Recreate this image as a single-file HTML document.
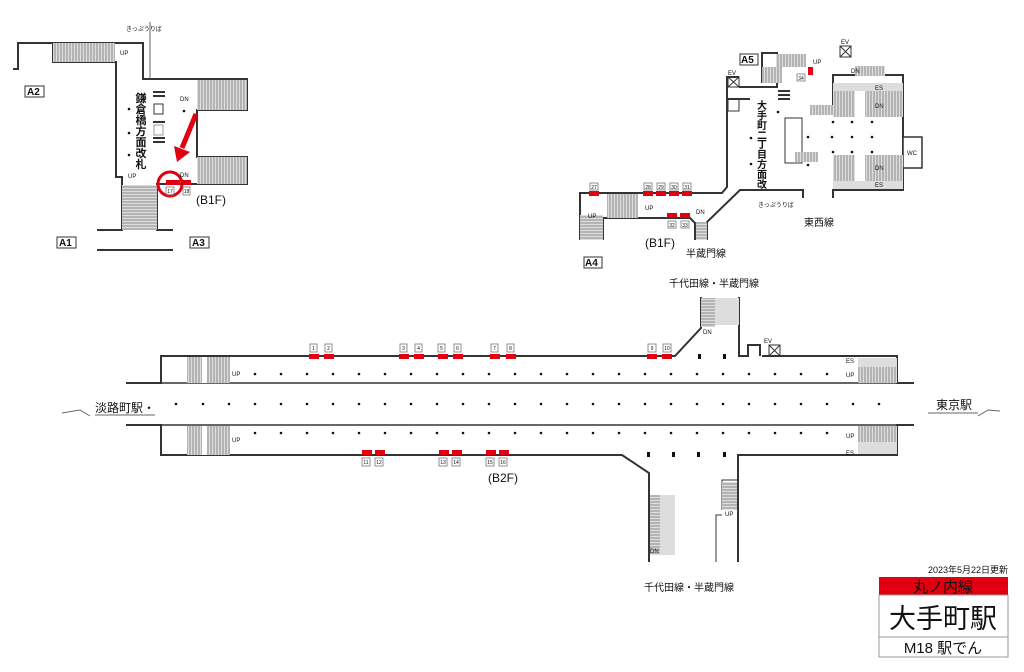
<!DOCTYPE html>
<html><head><meta charset="utf-8"><style>
body{margin:0;background:#fff}
svg{display:block}
text{font-family:"Liberation Sans","Noto Sans CJK JP",sans-serif;fill:#111}
</style></head><body>
<svg width="1024" height="672" viewBox="0 0 1024 672" xmlns="http://www.w3.org/2000/svg">
<defs>
<pattern id="hv" width="3" height="4" patternUnits="userSpaceOnUse"><rect width="3" height="4" fill="#ddd"/><line x1="1" y1="0" x2="1" y2="4" stroke="#666" stroke-width="0.7"/></pattern>
<pattern id="hh" width="4" height="3" patternUnits="userSpaceOnUse"><rect width="4" height="3" fill="#ddd"/><line x1="0" y1="1" x2="4" y2="1" stroke="#666" stroke-width="0.7"/></pattern>
</defs>
<g fill="none" stroke="#333" stroke-width="2">
<polyline points="13,69 18,69 18,43 143,43 143,79 247,79 247,110 197,110 197,157 247,157 247,184 157,184 157,230 173,230"/>
<polyline points="53,43 53,62 116,62 116,177 122,177 122,230 97,230"/>
<line x1="97" y1="250" x2="173" y2="250"/>
<polyline points="580,240 580,193 722,193 727,187 727,77 739,77"/>
<polyline points="739,87 777,87 777,53 762,53 762,83"/>
<polyline points="603,240 603,218 690,218 695,223 695,240"/>
<polyline points="707,240 707,222 740,190 803,190 803,198"/>
<polyline points="833,107 833,75 903,75 903,190 833,190 833,198"/>
<line x1="728" y1="99" x2="750" y2="99"/>
<polyline points="126,383 161,383 161,356 675,356 701,328 701,297"/>
<polyline points="739,297 739,356 748,356 748,345 760,345 760,356"/>
<polyline points="762,356 897,356 897,383 914,383"/>
<line x1="161" y1="383" x2="897" y2="383" stroke-width="1.5"/>
<polyline points="126,425 161,425 161,455 622,455 649,473 649,562"/>
<polyline points="738,562 738,455 897,455 897,425 914,425"/>
<line x1="161" y1="425" x2="897" y2="425" stroke-width="1.5"/>
</g>
<g stroke="#333" stroke-width="1" fill="none">
<rect x="728" y="77" width="11" height="10"/><path d="M728 77l11 10M739 77l-11 10"/>
<rect x="728" y="99" width="11" height="12"/>
<rect x="903" y="137" width="19" height="31" fill="#fff" stroke-width="1.5"/>
<rect x="840" y="46" width="11" height="11"/><path d="M840 46l11 11M851 46l-11 11"/>
<rect x="769" y="345" width="11" height="11"/><path d="M769 345l11 11M780 345l-11 11"/>
<rect x="785" y="118" width="17" height="45"/>
<polyline points="722,510 722,480 738,480"/>
<polyline points="716,562 716,515 722,515"/>
<line x1="150" y1="22" x2="150" y2="79" stroke="#666"/>
</g>
<rect x="53" y="43" width="62" height="19" fill="url(#hv)"/>
<rect x="197" y="80" width="50" height="30" fill="url(#hv)"/>
<rect x="197" y="157" width="50" height="27" fill="url(#hv)"/>
<rect x="122" y="185" width="35" height="45" fill="url(#hh)"/>
<rect x="607" y="194" width="31" height="24" fill="url(#hv)"/>
<rect x="580" y="215" width="23" height="25" fill="url(#hh)"/>
<rect x="696" y="222" width="11" height="18" fill="url(#hh)"/>
<rect x="776" y="54" width="30" height="13" fill="url(#hv)"/>
<rect x="762" y="67" width="20" height="16" fill="url(#hv)"/>
<rect x="855" y="66" width="30" height="10" fill="url(#hv)"/>
<rect x="833" y="83" width="70" height="8" fill="#ddd"/>
<rect x="833" y="91" width="70" height="26" fill="url(#hv)"/>
<rect x="855" y="91" width="10" height="26" fill="#fff"/>
<rect x="833" y="155" width="70" height="26" fill="url(#hv)"/>
<rect x="855" y="155" width="10" height="26" fill="#fff"/>
<rect x="833" y="181" width="70" height="8" fill="#ddd"/>
<rect x="810" y="105" width="23" height="10" fill="url(#hv)"/>
<rect x="795" y="152" width="23" height="10" fill="url(#hv)"/>
<rect x="187" y="357" width="43" height="26" fill="url(#hv)"/>
<rect x="187" y="426" width="43" height="29" fill="url(#hv)"/>
<rect x="202" y="357" width="5" height="26" fill="#fff"/><rect x="202" y="426" width="5" height="29" fill="#fff"/>
<rect x="858" y="358" width="39" height="9" fill="#ddd"/>
<rect x="858" y="367" width="39" height="16" fill="url(#hv)"/>
<rect x="858" y="426" width="39" height="16" fill="url(#hv)"/>
<rect x="858" y="442" width="39" height="12" fill="#ddd"/>
<rect x="701" y="298" width="14" height="29" fill="url(#hh)"/>
<rect x="715" y="298" width="24" height="27" fill="#ddd"/>
<rect x="650" y="495" width="10" height="60" fill="url(#hh)"/>
<rect x="660" y="495" width="15" height="60" fill="#ddd"/>
<rect x="722" y="482" width="15" height="28" fill="url(#hh)"/>
<g stroke="#333" stroke-width="2">
<line x1="153" y1="92" x2="165" y2="92"/><line x1="153" y1="96" x2="165" y2="96"/>
<line x1="153" y1="122" x2="165" y2="122"/><line x1="153" y1="138" x2="165" y2="138"/><line x1="153" y1="142" x2="165" y2="142"/>
<line x1="778" y1="91" x2="790" y2="91"/><line x1="778" y1="95" x2="790" y2="95"/><line x1="778" y1="99" x2="790" y2="99"/>
</g>
<rect x="154" y="104" width="9" height="10" fill="none" stroke="#333"/>
<rect x="154" y="125" width="9" height="10" fill="none" stroke="#999"/>
<g fill="#e00010">
<rect x="166" y="180" width="14" height="5"/><rect x="181" y="180" width="10" height="5"/>
<rect x="808" y="67" width="5" height="8"/>
<rect x="589" y="191" width="10" height="5"/><rect x="643" y="191" width="10" height="5"/><rect x="656" y="191" width="10" height="5"/><rect x="669" y="191" width="10" height="5"/><rect x="682" y="191" width="10" height="5"/>
<rect x="667" y="213" width="10" height="5"/><rect x="680" y="213" width="10" height="5"/>
<rect x="309" y="354" width="10" height="5"/><rect x="324" y="354" width="10" height="5"/><rect x="399" y="354" width="10" height="5"/><rect x="414" y="354" width="10" height="5"/><rect x="438" y="354" width="10" height="5"/><rect x="453" y="354" width="10" height="5"/><rect x="490" y="354" width="10" height="5"/><rect x="506" y="354" width="10" height="5"/><rect x="647" y="354" width="10" height="5"/><rect x="662" y="354" width="10" height="5"/>
<rect x="362" y="450" width="10" height="5"/><rect x="375" y="450" width="10" height="5"/><rect x="439" y="450" width="10" height="5"/><rect x="452" y="450" width="10" height="5"/><rect x="486" y="450" width="10" height="5"/><rect x="499" y="450" width="10" height="5"/>
</g>
<line x1="196" y1="114" x2="182" y2="148" stroke="#e00010" stroke-width="5"/>
<polygon points="174,146 190,152 177,162" fill="#e00010"/>
<circle cx="170" cy="184" r="12" fill="none" stroke="#e00010" stroke-width="3"/>
<g font-size="6" fill="#333" stroke="#777" stroke-width="0.8">
<rect x="310" y="344" width="7" height="8" fill="none"/><rect x="325" y="344" width="7" height="8" fill="none"/><rect x="400" y="344" width="7" height="8" fill="none"/><rect x="415" y="344" width="7" height="8" fill="none"/><rect x="438" y="344" width="7" height="8" fill="none"/><rect x="454" y="344" width="7" height="8" fill="none"/><rect x="491" y="344" width="7" height="8" fill="none"/><rect x="507" y="344" width="7" height="8" fill="none"/><rect x="648" y="344" width="8" height="8" fill="none"/><rect x="663" y="344" width="8" height="8" fill="none"/>
<rect x="362" y="458" width="8" height="8" fill="none"/><rect x="375" y="458" width="8" height="8" fill="none"/><rect x="439" y="458" width="8" height="8" fill="none"/><rect x="452" y="458" width="8" height="8" fill="none"/><rect x="486" y="458" width="8" height="8" fill="none"/><rect x="499" y="458" width="8" height="8" fill="none"/>
<rect x="166" y="187" width="8" height="8" fill="none"/><rect x="183" y="187" width="7" height="8" fill="none"/>
<rect x="590" y="183" width="8" height="7" fill="none"/><rect x="644" y="183" width="8" height="7" fill="none"/><rect x="657" y="183" width="8" height="7" fill="none"/><rect x="670" y="183" width="8" height="7" fill="none"/><rect x="683" y="183" width="8" height="7" fill="none"/><rect x="668" y="221" width="8" height="7" fill="none"/><rect x="681" y="221" width="8" height="7" fill="none"/><rect x="797" y="74" width="8" height="7" fill="none"/>
</g>
<g font-size="5" fill="#333" text-anchor="middle">
<text x="313.5" y="350">1</text><text x="328.5" y="350">2</text><text x="403.5" y="350">3</text><text x="418.5" y="350">4</text><text x="441.5" y="350">5</text><text x="457.5" y="350">6</text><text x="494.5" y="350">7</text><text x="510.5" y="350">8</text><text x="652" y="350">9</text><text x="667" y="350">10</text>
<text x="366" y="464">11</text><text x="379" y="464">12</text><text x="443" y="464">13</text><text x="456" y="464">14</text><text x="490" y="464">15</text><text x="503" y="464">16</text>
<text x="170" y="193">17</text><text x="186.5" y="193">18</text>
<text x="594" y="189">27</text><text x="648" y="189">28</text><text x="661" y="189">29</text><text x="674" y="189">30</text><text x="687" y="189">31</text><text x="672" y="227">32</text><text x="685" y="227">33</text><text x="801" y="80">34</text>
</g>
<g fill="#111">
<circle cx="255" cy="374" r="1.3"/><circle cx="281" cy="374" r="1.3"/><circle cx="307" cy="374" r="1.3"/><circle cx="333" cy="374" r="1.3"/><circle cx="359" cy="374" r="1.3"/><circle cx="385" cy="374" r="1.3"/><circle cx="411" cy="374" r="1.3"/><circle cx="437" cy="374" r="1.3"/><circle cx="463" cy="374" r="1.3"/><circle cx="489" cy="374" r="1.3"/><circle cx="515" cy="374" r="1.3"/><circle cx="541" cy="374" r="1.3"/><circle cx="567" cy="374" r="1.3"/><circle cx="593" cy="374" r="1.3"/><circle cx="619" cy="374" r="1.3"/><circle cx="645" cy="374" r="1.3"/><circle cx="671" cy="374" r="1.3"/><circle cx="697" cy="374" r="1.3"/><circle cx="723" cy="374" r="1.3"/><circle cx="749" cy="374" r="1.3"/><circle cx="775" cy="374" r="1.3"/><circle cx="801" cy="374" r="1.3"/><circle cx="827" cy="374" r="1.3"/>
<circle cx="255" cy="433" r="1.3"/><circle cx="281" cy="433" r="1.3"/><circle cx="307" cy="433" r="1.3"/><circle cx="333" cy="433" r="1.3"/><circle cx="359" cy="433" r="1.3"/><circle cx="385" cy="433" r="1.3"/><circle cx="411" cy="433" r="1.3"/><circle cx="437" cy="433" r="1.3"/><circle cx="463" cy="433" r="1.3"/><circle cx="489" cy="433" r="1.3"/><circle cx="515" cy="433" r="1.3"/><circle cx="541" cy="433" r="1.3"/><circle cx="567" cy="433" r="1.3"/><circle cx="593" cy="433" r="1.3"/><circle cx="619" cy="433" r="1.3"/><circle cx="645" cy="433" r="1.3"/><circle cx="671" cy="433" r="1.3"/><circle cx="697" cy="433" r="1.3"/><circle cx="723" cy="433" r="1.3"/><circle cx="749" cy="433" r="1.3"/><circle cx="775" cy="433" r="1.3"/><circle cx="801" cy="433" r="1.3"/><circle cx="827" cy="433" r="1.3"/>
<circle cx="176" cy="404" r="1.3"/><circle cx="203" cy="404" r="1.3"/><circle cx="229" cy="404" r="1.3"/><circle cx="255" cy="404" r="1.3"/><circle cx="281" cy="404" r="1.3"/><circle cx="307" cy="404" r="1.3"/><circle cx="333" cy="404" r="1.3"/><circle cx="359" cy="404" r="1.3"/><circle cx="385" cy="404" r="1.3"/><circle cx="411" cy="404" r="1.3"/><circle cx="437" cy="404" r="1.3"/><circle cx="463" cy="404" r="1.3"/><circle cx="489" cy="404" r="1.3"/><circle cx="515" cy="404" r="1.3"/><circle cx="541" cy="404" r="1.3"/><circle cx="567" cy="404" r="1.3"/><circle cx="593" cy="404" r="1.3"/><circle cx="619" cy="404" r="1.3"/><circle cx="645" cy="404" r="1.3"/><circle cx="671" cy="404" r="1.3"/><circle cx="697" cy="404" r="1.3"/><circle cx="723" cy="404" r="1.3"/><circle cx="749" cy="404" r="1.3"/><circle cx="775" cy="404" r="1.3"/><circle cx="801" cy="404" r="1.3"/><circle cx="827" cy="404" r="1.3"/><circle cx="853" cy="404" r="1.3"/><circle cx="879" cy="404" r="1.3"/>
<rect x="698" y="354" width="3" height="5"/><rect x="723" y="354" width="3" height="5"/>
<rect x="647" y="452" width="3" height="5"/><rect x="672" y="452" width="3" height="5"/><rect x="697" y="452" width="3" height="5"/><rect x="723" y="452" width="3" height="5"/>
<circle cx="129" cy="109" r="1.3"/><circle cx="129" cy="133" r="1.3"/><circle cx="129" cy="155" r="1.3"/><circle cx="184" cy="111" r="1.3"/>
<circle cx="778" cy="112" r="1.3"/><circle cx="751" cy="138" r="1.3"/><circle cx="751" cy="164" r="1.3"/>
<circle cx="808" cy="137" r="1.3"/><circle cx="832" cy="137" r="1.3"/><circle cx="852" cy="137" r="1.3"/><circle cx="872" cy="137" r="1.3"/>
<circle cx="833" cy="122" r="1.3"/><circle cx="852" cy="122" r="1.3"/><circle cx="872" cy="122" r="1.3"/>
<circle cx="833" cy="152" r="1.3"/><circle cx="852" cy="152" r="1.3"/><circle cx="872" cy="152" r="1.3"/><circle cx="808" cy="165" r="1.3"/>
</g>
<g font-size="6" fill="#333">
<text x="120" y="55">UP</text><text x="180" y="101">DN</text><text x="180" y="177">DN</text><text x="128" y="178">UP</text>
<text x="813" y="64">UP</text><text x="728" y="75">EV</text><text x="841" y="44">EV</text><text x="851" y="73">DN</text>
<text x="875" y="90">ES</text><text x="875" y="108">DN</text><text x="875" y="170">DN</text><text x="875" y="187">ES</text><text x="907" y="155">WC</text>
<text x="645" y="210">UP</text><text x="588" y="218">UP</text><text x="696" y="214">DN</text>
<text x="232" y="376">UP</text><text x="232" y="442">UP</text>
<text x="846" y="363">ES</text><text x="846" y="377">UP</text><text x="846" y="438">UP</text><text x="846" y="455">ES</text>
<text x="703" y="334">DN</text><text x="764" y="343">EV</text><text x="650" y="553">DN</text><text x="725" y="516">UP</text>
<text x="126" y="31">きっぷうりば</text><text x="758" y="207">きっぷうりば</text>
</g>
<g font-size="10" font-weight="bold" fill="#222">
<rect x="25" y="86" width="19" height="11" fill="none" stroke="#333"/><text x="27" y="95">A2</text>
<rect x="57" y="237" width="19" height="11" fill="none" stroke="#333"/><text x="59" y="246">A1</text>
<rect x="190" y="237" width="19" height="11" fill="none" stroke="#333"/><text x="192" y="246">A3</text>
<rect x="740" y="54" width="18" height="11" fill="none" stroke="#333"/><text x="741" y="63">A5</text>
<rect x="584" y="257" width="18" height="11" fill="none" stroke="#333"/><text x="585" y="266">A4</text>
</g>
<g font-size="12" fill="#222">
<text x="196" y="204">(B1F)</text><text x="645" y="247">(B1F)</text><text x="488" y="482">(B2F)</text>
</g>
<g font-size="11" font-weight="bold" fill="#222" text-anchor="middle">
<text x="141" y="102">鎌</text><text x="141" y="113">倉</text><text x="141" y="124">橋</text><text x="141" y="135">方</text><text x="141" y="146">面</text><text x="141" y="157">改</text><text x="141" y="168">札</text>
</g>
<g font-size="10" font-weight="bold" fill="#222" text-anchor="middle">
<text x="762" y="109">大</text><text x="762" y="119">手</text><text x="762" y="129">町</text><text x="762" y="139">二</text><text x="762" y="148">丁</text><text x="762" y="158">目</text><text x="762" y="168">方</text><text x="762" y="178">面</text><text x="762" y="188">改</text>
</g>
<g font-size="10" fill="#222">
<text x="686" y="257">半蔵門線</text><text x="804" y="226">東西線</text>
<text x="669" y="287">千代田線・半蔵門線</text><text x="644" y="591">千代田線・半蔵門線</text>
</g>
<g font-size="12" fill="#222">
<text x="95" y="412">淡路町駅・</text><text x="936" y="409">東京駅</text>
</g>
<line x1="95" y1="415" x2="155" y2="415" stroke="#666"/><polyline points="62,413 80,410 90,416" fill="none" stroke="#666"/>
<line x1="928" y1="413" x2="978" y2="413" stroke="#666"/><polyline points="978,416 988,410 1000,411" fill="none" stroke="#666"/>
<text x="1008" y="573" font-size="9" text-anchor="end">2023年5月22日更新</text>
<rect x="879" y="577" width="129" height="18" fill="#e00010"/>
<text x="943" y="592" font-size="15" text-anchor="middle" fill="#111">丸ノ内線</text>
<rect x="879" y="595" width="129" height="42" fill="#fff" stroke="#999"/>
<text x="943" y="628" font-size="27" text-anchor="middle">大手町駅</text>
<rect x="879" y="637" width="129" height="20" fill="#fff" stroke="#999"/>
<text x="943" y="653" font-size="15" text-anchor="middle">M18 駅でん</text>
</svg>
</body></html>
